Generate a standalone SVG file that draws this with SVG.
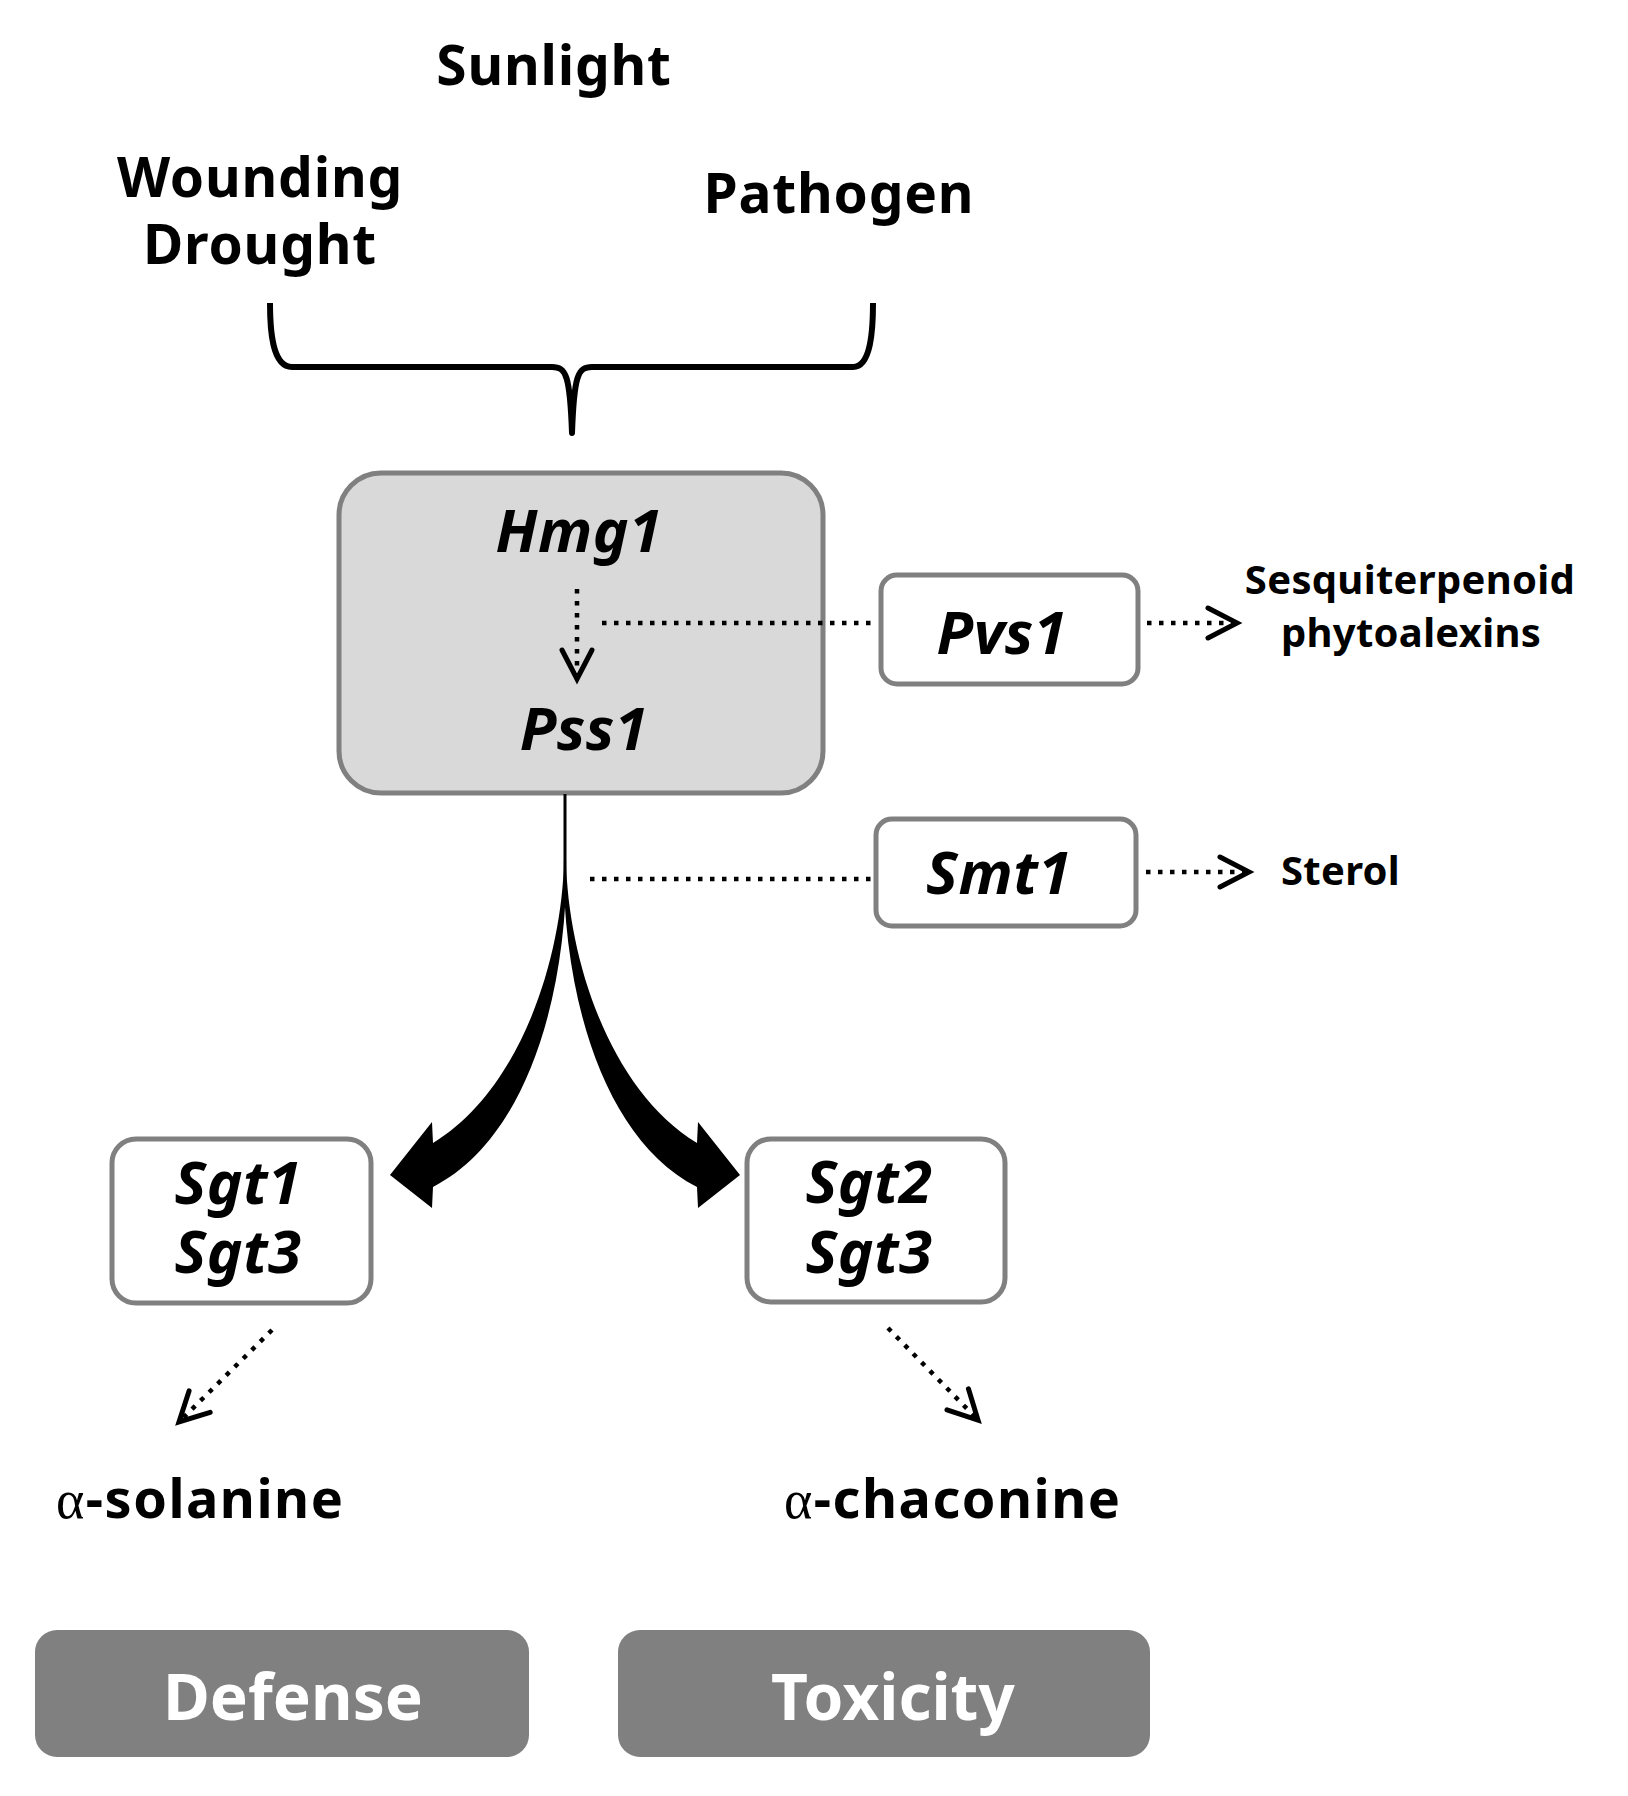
<svg xmlns="http://www.w3.org/2000/svg" width="1628" height="1796" viewBox="0 0 1628 1796">
<defs>
<style>
.t{font-family:"Noto Sans","Liberation Sans",sans-serif;font-weight:bold;fill:#000}
.big{font-size:55px;letter-spacing:0.8px}
.gene{font-size:60px;font-style:italic;letter-spacing:0.5px}
.small{font-size:40px;letter-spacing:0.3px}
.prod{font-size:54px;letter-spacing:1.5px}
.lbl{font-size:64px;fill:#fff}
.box{fill:#fff;stroke:#808080;stroke-width:5}
.gbox{fill:#d9d9d9;stroke:#808080;stroke-width:5}
.dbox{fill:#808080}
.dot{fill:none;stroke:#000;stroke-width:4.5;stroke-dasharray:4.5 7.5}
</style>
<marker id="chev" markerUnits="userSpaceOnUse" markerWidth="44" markerHeight="44" viewBox="-36 -22 44 44" refX="0" refY="0" orient="auto">
<path d="M-29,-15 L0,0 L-29,15" fill="none" stroke="#000" stroke-width="5" stroke-linecap="round" stroke-linejoin="miter"/>
</marker>
</defs>
<rect width="1628" height="1796" fill="#fff"/>

<g id="stimuli">
<text class="t big" x="554" y="85" text-anchor="middle">Sunlight</text>
<text class="t big" x="260" y="197" text-anchor="middle">Wounding</text>
<text class="t big" x="260" y="264" text-anchor="middle">Drought</text>
<text class="t big" x="839" y="213" text-anchor="middle">Pathogen</text>
<path d="M270,303 C270,330 272,367 292,367 L552,367 C566,367 570,375 572,433 C574,375 578,367 592,367 L853,367 C871,367 873,330 873,303" fill="none" stroke="#000" stroke-width="6" stroke-linejoin="round"/>
</g>

<g id="node-hmg1-pss1">
<rect class="gbox" x="339" y="473" width="484" height="320" rx="42"/>
<text class="t gene" x="579" y="552" text-anchor="middle">Hmg1</text>
<text class="t gene" x="584" y="750" text-anchor="middle">Pss1</text>
</g>

<g id="node-pvs1">
<rect class="box" x="881" y="575" width="257" height="109" rx="16"/>
<text class="t gene" x="1002" y="654" text-anchor="middle">Pvs1</text>
</g>
<g id="node-sesqui">
<text class="t small" x="1410" y="594" text-anchor="middle">Sesquiterpenoid</text>
<text class="t small" x="1411" y="647" text-anchor="middle">phytoalexins</text>
</g>

<g id="node-smt1">
<rect class="box" x="876" y="819" width="260" height="107" rx="16"/>
<text class="t gene" x="999" y="894" text-anchor="middle">Smt1</text>
</g>
<g id="node-sterol">
<text class="t small" x="1281" y="885">Sterol</text>
</g>

<g id="node-sgt13">
<rect class="box" x="112" y="1139" width="259" height="164" rx="24"/>
<text class="t gene" x="238" y="1204" text-anchor="middle">Sgt1</text>
<text class="t gene" x="238" y="1273" text-anchor="middle">Sgt3</text>
</g>
<g id="node-sgt23">
<rect class="box" x="747" y="1139" width="258" height="163" rx="24"/>
<text class="t gene" x="869" y="1203" text-anchor="middle">Sgt2</text>
<text class="t gene" x="869" y="1273" text-anchor="middle">Sgt3</text>
</g>

<g id="node-solanine">
<text class="t prod" x="56" y="1518"><tspan font-family="Liberation Serif, serif" font-weight="normal">α</tspan>-solanine</text>
</g>
<g id="node-chaconine">
<text class="t prod" x="784" y="1518"><tspan font-family="Liberation Serif, serif" font-weight="normal">α</tspan>-chaconine</text>
</g>

<g id="node-defense">
<rect class="dbox" x="35" y="1630" width="494" height="127" rx="22"/>
<text class="t lbl" x="293" y="1720" text-anchor="middle">Defense</text>
</g>
<g id="node-toxicity">
<rect class="dbox" x="618" y="1630" width="532" height="127" rx="22"/>
<text class="t lbl" x="893" y="1720" text-anchor="middle">Toxicity</text>
</g>

<g id="connectors">
<line class="dot" x1="577" y1="589" x2="577" y2="679" marker-end="url(#chev)"/>
<line class="dot" x1="602" y1="623" x2="878" y2="623"/>
<line class="dot" x1="1147" y1="623" x2="1237" y2="623" marker-end="url(#chev)"/>
<line class="dot" x1="590" y1="879" x2="872" y2="879"/>
<line class="dot" x1="1146" y1="872" x2="1249" y2="872" marker-end="url(#chev)"/>
<line class="dot" x1="272" y1="1330" x2="179" y2="1422" marker-end="url(#chev)"/>
<line class="dot" x1="888" y1="1328" x2="978" y2="1420" marker-end="url(#chev)"/>
<path d="M564,794 L564,860 C562,960 520,1090 433,1143 L432,1122 L390,1175 L432,1208 L433,1187 C525,1140 567,1000 566.5,860 L566.5,794 Z" fill="#000"/>
<path transform="translate(1130,0) scale(-1,1)" d="M564,794 L564,860 C562,960 520,1090 433,1143 L432,1122 L390,1175 L432,1208 L433,1187 C525,1140 567,1000 566.5,860 L566.5,794 Z" fill="#000"/>
</g>
</svg>
